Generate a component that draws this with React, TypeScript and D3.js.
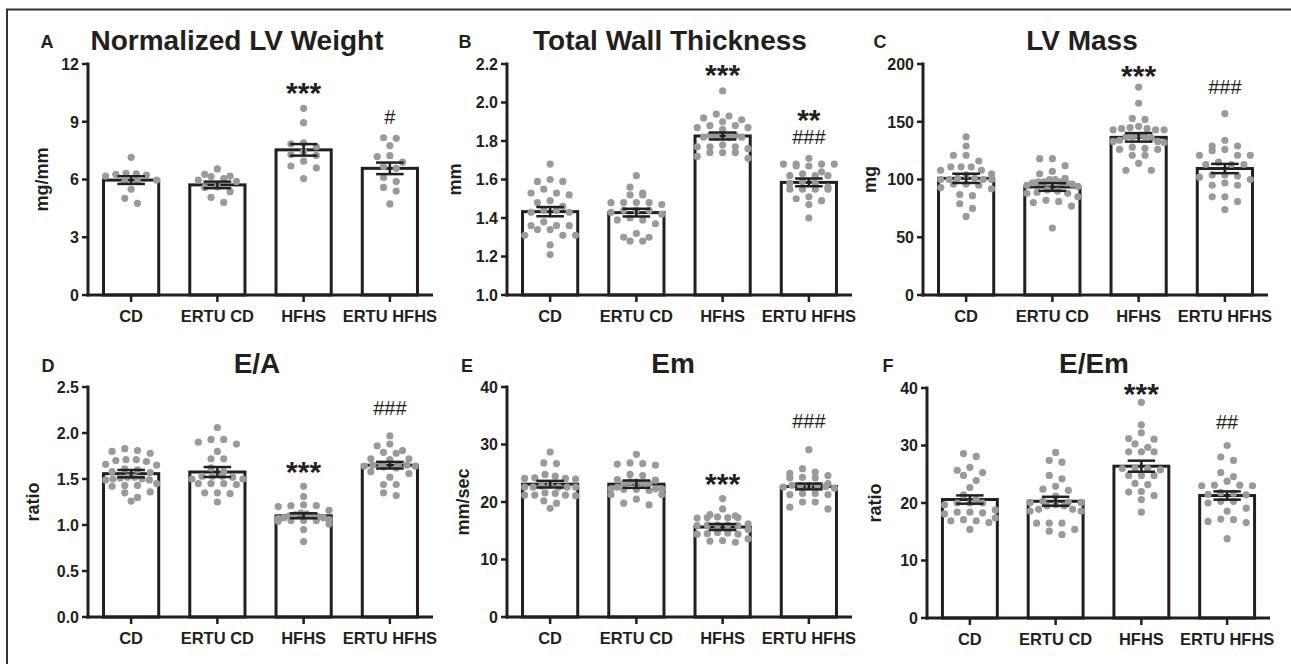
import React from 'react';
import * as d3 from 'd3';

const categories = ['CD', 'ERTU CD', 'HFHS', 'ERTU HFHS'];

// Panel A: Normalized LV Weight (mg/mm)
const lvWeightPoints = [
  [7.15, 6.23, 6.27, 6.32, 6.18, 6.29, 5.89, 5.97, 5.49, 5.02, 4.76, 5.89],
  [6.55, 6.27, 6.18, 6.15, 6.05, 5.97, 5.9, 5.62, 5.59, 5.37, 5.07, 4.81],
  [9.7, 8.95, 7.9, 7.85, 7.7, 7.45, 7.3, 7.25, 6.95, 6.7, 6.6, 6.05],
  [8.17, 8.14, 7.76, 7.24, 7.19, 6.9, 6.67, 6.58, 6.1, 5.89, 5.59, 5.4, 4.73],
];
const lvWeightMean = [5.97, 5.72, 7.54, 6.58];
const lvWeightSem = [0.2, 0.17, 0.3, 0.3];
const lvWeightTicks = [0, 3, 6, 9, 12];

// Panel B: Total Wall Thickness (mm)
const wallPoints = [
  [1.68, 1.59, 1.59, 1.6, 1.53, 1.52, 1.53, 1.55, 1.48, 1.49, 1.46, 1.44, 1.43, 1.43, 1.44, 1.34, 1.36, 1.36, 1.36, 1.34, 1.38, 1.31, 1.31, 1.31, 1.26, 1.21],
  [1.62, 1.56, 1.52, 1.53, 1.52, 1.47, 1.48, 1.48, 1.48, 1.48, 1.43, 1.44, 1.44, 1.44, 1.42, 1.39, 1.4, 1.39, 1.37, 1.32, 1.3, 1.3, 1.28, 1.28],
  [2.06, 1.93, 1.92, 1.91, 1.94, 1.86, 1.88, 1.87, 1.88, 1.9, 1.87, 1.82, 1.82, 1.83, 1.82, 1.82, 1.83, 1.76, 1.77, 1.78, 1.77, 1.77, 1.72, 1.74, 1.74, 1.71, 1.74],
  [1.71, 1.67, 1.68, 1.68, 1.68, 1.68, 1.67, 1.62, 1.62, 1.63, 1.64, 1.62, 1.59, 1.58, 1.58, 1.55, 1.56, 1.55, 1.55, 1.55, 1.51, 1.5, 1.49, 1.47, 1.4],
];
const wallMean = [1.433, 1.428, 1.826, 1.585];
const wallSem = [0.024, 0.02, 0.018, 0.02];
const wallTicks = [1.0, 1.2, 1.4, 1.6, 1.8, 2.0, 2.2];

// Panel C: LV Mass (mg)
const massPoints = [
  [137, 129, 121, 121, 116, 111, 111, 111, 108, 108, 105, 104, 101, 100, 100, 100, 101, 100, 93, 96, 95, 96, 92, 87, 86, 79, 75, 68],
  [118, 118, 112, 107, 100, 98, 101, 98, 98, 105, 100, 97, 95, 96, 94, 97, 89, 88, 91, 88, 90, 82, 81, 80, 77, 85, 58],
  [180, 166, 153, 152, 144, 143, 145, 146, 143, 144, 143, 138, 137, 137, 136, 137, 133, 132, 134, 133, 126, 127, 128, 126, 121, 121, 114, 108, 108],
  [157, 134, 129, 129, 125, 121, 121, 121, 126, 115, 113, 113, 113, 103, 104, 104, 102, 100, 95, 95, 97, 85, 85, 81, 74],
];
const massMean = [101, 93.5, 136.5, 109.5];
const massSem = [4, 3.3, 3.7, 4];
const massTicks = [0, 50, 100, 150, 200];

// Panel D: E/A (ratio)
const eaPoints = [
  [1.83, 1.81, 1.8, 1.78, 1.7, 1.71, 1.71, 1.69, 1.65, 1.66, 1.58, 1.57, 1.6, 1.61, 1.49, 1.52, 1.5, 1.5, 1.49, 1.51, 1.52, 1.43, 1.42, 1.43, 1.45, 1.35, 1.36, 1.3, 1.26],
  [2.06, 1.93, 1.9, 1.93, 1.88, 1.8, 1.72, 1.72, 1.5, 1.53, 1.52, 1.53, 1.53, 1.62, 1.5, 1.58, 1.45, 1.44, 1.45, 1.45, 1.34, 1.35, 1.35, 1.25],
  [1.42, 1.31, 1.21, 1.22, 1.2, 1.21, 1.12, 1.11, 1.1, 1.13, 1.16, 1.05, 1.06, 1.05, 1.08, 1.05, 1.01, 0.95, 0.82, 1.1, 1.08, 1.09, 1.07, 1.04],
  [1.97, 1.88, 1.86, 1.81, 1.79, 1.78, 1.72, 1.72, 1.71, 1.63, 1.66, 1.65, 1.64, 1.66, 1.65, 1.64, 1.56, 1.58, 1.44, 1.44, 1.52, 1.32, 1.35, 1.62],
];
const eaMean = [1.558, 1.576, 1.1, 1.65];
const eaSem = [0.04, 0.054, 0.027, 0.036];
const eaTicks = [0, 0.5, 1.0, 1.5, 2.0, 2.5];

// Panel E: Em (mm/sec)
const emPoints = [
  [28.7, 26.8, 26.7, 24.5, 24.8, 24.1, 24.1, 24.0, 24.2, 22.6, 23.0, 22.6, 22.6, 22.8, 22.6, 22.6, 21.6, 21.2, 21.2, 21.1, 21.2, 21.5, 20.2, 19.8, 18.9],
  [28.3, 26.8, 26.6, 26.4, 26.7, 24.6, 24.8, 23.2, 23.8, 23.5, 23.2, 23.5, 23.2, 23.9, 22.0, 22.3, 22.2, 22.3, 22.2, 22.3, 22.6, 21.3, 21.3, 20.5, 19.5, 19.8],
  [20.6, 18.8, 17.4, 17.3, 17.8, 17.2, 17.3, 17.6, 17.3, 15.9, 16.0, 16.0, 16.2, 15.9, 16.0, 15.2, 14.7, 14.4, 14.6, 14.4, 14.5, 13.6, 13.3, 13.0, 13.2],
  [29.1, 25.8, 25.2, 25.0, 24.2, 24.2, 24.3, 24.6, 22.9, 22.9, 22.9, 22.9, 22.7, 21.3, 21.5, 21.3, 21.5, 22.4, 20.0, 20.0, 18.8, 19.1, 23.2, 22.6],
];
const emMean = [23.1, 23.1, 15.65, 22.7];
const emSem = [0.58, 0.64, 0.52, 0.5];
const emTicks = [0, 10, 20, 30, 40];

// Panel F: E/Em (ratio)
const eemPoints = [
  [28.1, 28.6, 25.7, 26.2, 25.3, 24.8, 23.9, 22.7, 21.4, 19.7, 20.0, 20.0, 20.0, 20.6, 18.1, 18.8, 18.4, 18.4, 18.3, 16.9, 17.4, 16.6, 17.1, 16.9, 15.4],
  [28.8, 27.4, 27.1, 24.8, 24.2, 22.9, 22.2, 22.4, 19.5, 19.7, 20.1, 20.1, 20.3, 20.1, 18.6, 18.9, 18.9, 18.6, 16.5, 16.5, 16.5, 14.5, 15.1, 15.4, 21.2, 19.5],
  [37.5, 33.6, 32.2, 31.2, 31.1, 29.7, 30.3, 28.9, 28.9, 28.9, 26.1, 26.0, 26.0, 25.8, 24.8, 24.8, 24.8, 23.4, 23.2, 21.9, 22.0, 21.3, 20.6, 18.4],
  [30.0, 28.0, 27.4, 23.8, 24.6, 25.3, 23.0, 23.0, 23.1, 23.1, 21.7, 21.8, 21.5, 21.4, 20.3, 20.3, 20.0, 18.6, 19.1, 17.2, 16.8, 17.1, 16.6, 13.8],
];
const eemMean = [20.6, 20.3, 26.4, 21.3];
const eemSem = [0.72, 0.78, 0.96, 0.72];
const eemTicks = [0, 10, 20, 30, 40];

// Significance marks: [category index, text, value at text baseline]
const lvWeightMarks: [number, string, number][] = [[2, '***', 10.0], [3, '#', 8.88]];
const wallMarks: [number, string, number][] = [[2, '***', 2.09], [3, '**', 1.857], [3, '###', 1.784]];
const massMarks: [number, string, number][] = [[2, '***', 181], [3, '###', 174]];
const eaMarks: [number, string, number][] = [[3, '###', 2.196], [2, '***', 1.467]];
const emMarks: [number, string, number][] = [[3, '###', 32.9], [2, '***', 21.4]];
const eemMarks: [number, string, number][] = [[2, '***', 37.3], [3, '##', 32.9]];

const INK = '#231f20';
const DOT = '#9a9a9a';
const FONT = '"Liberation Sans", Arial, Helvetica, sans-serif';

type Panel = {
  letter: string;
  title: string;
  yLabel: string;
  points: number[][];
  mean: number[];
  sem: number[];
  ticks: number[];
  fmt: (v: number) => string;
  marks: [number, string, number][];
  x0: number; x1: number; yTop: number; yBot: number;
  titleX: number; titleY: number; letterX: number; letterY: number; yLabelX: number;
};

const panels: Panel[] = [
  { letter: 'A', title: 'Normalized LV Weight', yLabel: 'mg/mm', points: lvWeightPoints, mean: lvWeightMean, sem: lvWeightSem, ticks: lvWeightTicks, fmt: d3.format('d'), marks: lvWeightMarks,
    x0: 88, x1: 433, yTop: 64, yBot: 295, titleX: 237, titleY: 50, letterX: 47, letterY: 48, yLabelX: 42 },
  { letter: 'B', title: 'Total Wall Thickness', yLabel: 'mm', points: wallPoints, mean: wallMean, sem: wallSem, ticks: wallTicks, fmt: d3.format('.1f'), marks: wallMarks,
    x0: 507, x1: 852, yTop: 64, yBot: 295, titleX: 670, titleY: 50, letterX: 465, letterY: 48, yLabelX: 455 },
  { letter: 'C', title: 'LV Mass', yLabel: 'mg', points: massPoints, mean: massMean, sem: massSem, ticks: massTicks, fmt: d3.format('d'), marks: massMarks,
    x0: 923, x1: 1268, yTop: 64, yBot: 295, titleX: 1082, titleY: 50, letterX: 880, letterY: 48, yLabelX: 870 },
  { letter: 'D', title: 'E/A', yLabel: 'ratio', points: eaPoints, mean: eaMean, sem: eaSem, ticks: eaTicks, fmt: d3.format('.1f'), marks: eaMarks,
    x0: 88, x1: 433, yTop: 387, yBot: 617, titleX: 257, titleY: 373, letterX: 48, letterY: 372, yLabelX: 33 },
  { letter: 'E', title: 'Em', yLabel: 'mm/sec', points: emPoints, mean: emMean, sem: emSem, ticks: emTicks, fmt: d3.format('d'), marks: emMarks,
    x0: 507, x1: 852, yTop: 387, yBot: 617, titleX: 673, titleY: 373, letterX: 467, letterY: 372, yLabelX: 463 },
  { letter: 'F', title: 'E/Em', yLabel: 'ratio', points: eemPoints, mean: eemMean, sem: eemSem, ticks: eemTicks, fmt: d3.format('d'), marks: eemMarks,
    x0: 927, x1: 1270, yTop: 388, yBot: 618, titleX: 1094, titleY: 373, letterX: 888, letterY: 372, yLabelX: 875 },
];

const R = 3.6;
const ROW_H = 7.2;     // dots closer than this vertically share a row
const MAX_STEP = 12.7; // widest spacing between neighbours in a row
const ROW_W = 51;      // maximum spread of a row (centre to centre)

// GraphPad-like scatter: bin into rows, spread each row symmetrically
function scatterRows(values: number[], y: (v: number) => number) {
  const items = values.map((v) => ({ py: y(v), dx: 0 })).sort((a, b) => a.py - b.py);
  const rows: typeof items[] = [];
  let cur: typeof items = [];
  let start = -Infinity;
  for (const it of items) {
    if (it.py - start > ROW_H) {
      if (cur.length) rows.push(cur);
      cur = [it];
      start = it.py;
    } else cur.push(it);
  }
  if (cur.length) rows.push(cur);
  for (const row of rows) {
    const n = row.length;
    const step = n > 1 ? Math.min(MAX_STEP, ROW_W / (n - 1)) : 0;
    // order slots centre-out so near-equal values sit mid-row
    const slots = d3.range(n).map((k) => (k - (n - 1) / 2) * step);
    const byVal = row.slice().sort((a, b) => a.py - b.py);
    const order = slots.slice().sort((a, b) => Math.abs(a) - Math.abs(b) || a - b);
    byVal.forEach((it, k) => { it.dx = order[k]; });
  }
  return items;
}

function PanelView({ p }: { p: Panel }) {
  const yDomain = [p.ticks[0], p.ticks[p.ticks.length - 1]];
  const y = d3.scaleLinear().domain(yDomain).range([p.yBot, p.yTop]);
  const x = d3.scaleBand().domain(categories).range([p.x0, p.x1]).paddingInner(0.36).paddingOuter(0.18);
  const bw = x.bandwidth();
  const cx = (c: string) => (x(c) as number) + bw / 2;
  const capW = bw * 0.25;
  return (
    <g>
      <text x={p.letterX} y={p.letterY} textAnchor="middle" fontSize={18} fontWeight="bold" fill={INK}>{p.letter}</text>
      <text x={p.titleX} y={p.titleY} textAnchor="middle" fontSize={28} fontWeight="bold" fill={INK}>{p.title}</text>
      <text transform={`translate(${p.yLabelX},${(p.yTop + p.yBot) / 2}) rotate(-90)`} dy="0.35em" textAnchor="middle" fontSize={18} fontWeight="bold" fill={INK}>{p.yLabel}</text>
      {categories.map((c, i) => (
        <rect key={'b' + c} x={x(c)} y={y(p.mean[i])} width={bw} height={p.yBot - y(p.mean[i])} fill="#fff" stroke={INK} strokeWidth={3} />
      ))}
      {categories.map((c, i) => scatterRows(p.points[i], y).map((d, j) => (
        <circle key={'d' + c + j} cx={cx(c) + d.dx} cy={d.py} r={R} fill={DOT} />
      )))}
      {categories.map((c, i) => {
        const m = p.mean[i], s = p.sem[i];
        const xc = cx(c);
        return (
          <g key={'e' + c} stroke={INK} strokeWidth={2.5}>
            <line x1={xc} x2={xc} y1={y(m + s)} y2={y(m - s)} />
            <line x1={xc - capW} x2={xc + capW} y1={y(m + s)} y2={y(m + s)} />
            <line x1={xc - capW} x2={xc + capW} y1={y(m - s)} y2={y(m - s)} />
          </g>
        );
      })}
      <line x1={p.x0} x2={p.x0} y1={p.yTop - 1.5} y2={p.yBot + 1.5} stroke={INK} strokeWidth={3} />
      <line x1={p.x0 - 1.5} x2={p.x1} y1={p.yBot} y2={p.yBot} stroke={INK} strokeWidth={3} />
      {p.ticks.map((t) => (
        <g key={'t' + t}>
          <line x1={p.x0 - 6} x2={p.x0} y1={y(t)} y2={y(t)} stroke={INK} strokeWidth={2.5} />
          <text x={p.x0 - 9} y={y(t)} dy="0.36em" textAnchor="end" fontSize={16} fontWeight="bold" fill={INK}>{p.fmt(t)}</text>
        </g>
      ))}
      {categories.map((c) => (
        <g key={'x' + c}>
          <line x1={cx(c)} x2={cx(c)} y1={p.yBot} y2={p.yBot + 7} stroke={INK} strokeWidth={2.5} />
          <text x={cx(c)} y={p.yBot + 27} textAnchor="middle" fontSize={16.5} fontWeight="bold" fill={INK}>{c}</text>
        </g>
      ))}
      {p.marks.map(([ci, txt, v], k) => (
        <text key={'m' + k} x={cx(categories[ci])} y={y(v)} textAnchor="middle"
          fontSize={txt.startsWith('*') ? 30 : 20} fontWeight={txt.startsWith('*') ? 'bold' : 'normal'} fill={INK}>{txt}</text>
      ))}
    </g>
  );
}

export default function App() {
  return (
    <svg width={1291} height={664} style={{ position: 'absolute', left: 0, top: 0, background: '#fff' }} fontFamily={FONT}>
      <rect x={0} y={0} width={1291} height={664} fill="#fff" />
      <path d="M7,670 L7,9.5 L1300,9.5" fill="none" stroke="#333" strokeWidth={2} />
      {panels.map((p) => <PanelView key={p.letter} p={p} />)}
    </svg>
  );
}
